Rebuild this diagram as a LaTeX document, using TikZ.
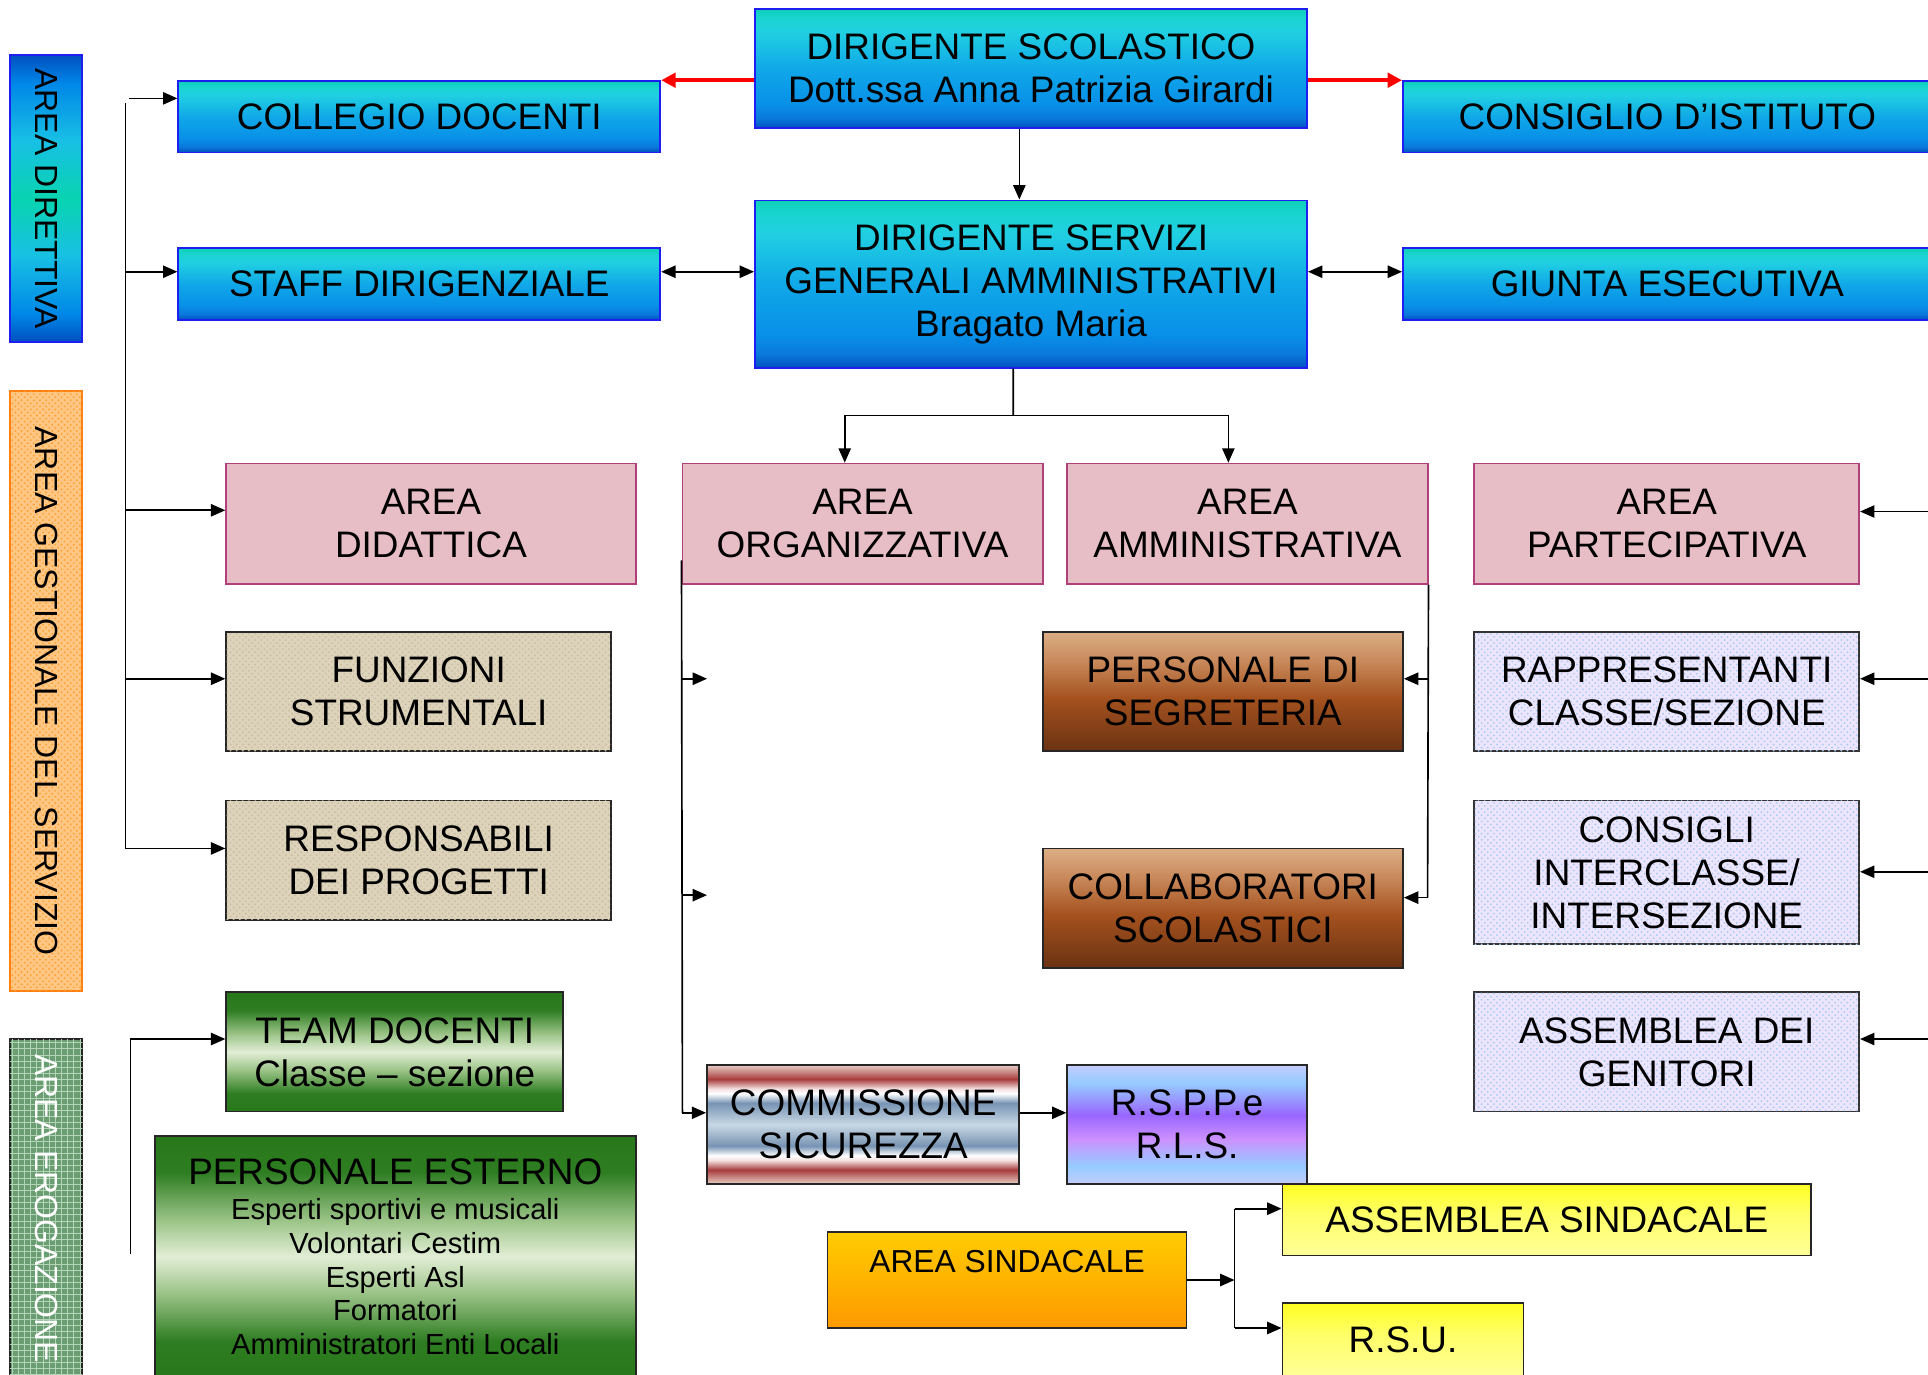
\documentclass[tikz,border=0pt]{standalone}
\usepackage{fontspec}
\setmainfont{Liberation Sans}
\usetikzlibrary{arrows.meta,patterns,calc}

\definecolor{bBorder}{HTML}{1E1EF0}
\definecolor{bA}{HTML}{0050C0}
\definecolor{bB}{HTML}{0A78DC}
\definecolor{bC}{HTML}{0890E8}
\definecolor{bD}{HTML}{10A8E8}
\definecolor{bE}{HTML}{20CFE2}
\definecolor{bF}{HTML}{1AD4D0}
\definecolor{bG}{HTML}{0CD0B8}
\definecolor{pinkF}{HTML}{E8BEC6}
\definecolor{pBorder}{HTML}{B0407A}
\definecolor{beigeF}{HTML}{DDD2BA}
\definecolor{beigeP}{HTML}{C9BDA2}
\definecolor{lavF}{HTML}{EDE5FD}
\definecolor{lavP}{HTML}{A8CCF4}
\definecolor{orF}{HTML}{FFC684}
\definecolor{orP}{HTML}{FFA030}
\definecolor{orBorder}{HTML}{FF7F10}
\definecolor{grF}{HTML}{6A9E72}
\definecolor{grP}{HTML}{B4D4B8}
\definecolor{brA}{HTML}{6A3212}
\definecolor{brB}{HTML}{A5521F}
\definecolor{brC}{HTML}{C8885A}
\definecolor{brD}{HTML}{DBAE85}
\definecolor{gnA}{HTML}{28781A}
\definecolor{gnB}{HTML}{2E7D22}
\definecolor{gnC}{HTML}{9CC488}
\definecolor{gnD}{HTML}{E2EED6}
\definecolor{stA}{HTML}{E8D0C8}
\definecolor{stB}{HTML}{A83C3C}
\definecolor{stC}{HTML}{F4E0E0}
\definecolor{stD}{HTML}{7894B4}
\definecolor{stE}{HTML}{C8D8E4}
\definecolor{rsA}{HTML}{C4CCFF}
\definecolor{rsB}{HTML}{96CCFF}
\definecolor{rsC}{HTML}{CC90FF}
\definecolor{rsD}{HTML}{9966FF}
\definecolor{oA}{HTML}{FF9900}
\definecolor{oB}{HTML}{FFCC00}
\definecolor{yA}{HTML}{FFFF99}
\definecolor{yB}{HTML}{FFFF66}
\definecolor{yC}{HTML}{FFFF22}
\definecolor{barD}{HTML}{0088E8}
\definecolor{barE}{HTML}{18C0E4}
\definecolor{barF}{HTML}{08D4B0}

\pgfdeclareverticalshading{blueshade}{100bp}{color(0bp)=(bA); color(25bp)=(bA); color(29bp)=(bB); color(35bp)=(bC); color(50bp)=(bD); color(65bp)=(bE); color(71bp)=(bF); color(75bp)=(bG); color(100bp)=(bG)}
\pgfdeclareverticalshading{barshade}{100bp}{color(0bp)=(bA); color(25bp)=(bA); color(30bp)=(barD); color(40bp)=(barE); color(50bp)=(barF); color(60bp)=(barE); color(70bp)=(barD); color(75bp)=(bA); color(100bp)=(bA)}
\pgfdeclareverticalshading{brownshade}{100bp}{color(0bp)=(brA); color(25bp)=(brA); color(47.5bp)=(brB); color(62.5bp)=(brC); color(75bp)=(brD); color(100bp)=(brD)}
\pgfdeclareverticalshading{greenshade}{100bp}{color(0bp)=(gnA); color(25bp)=(gnA); color(32.5bp)=(gnB); color(42.5bp)=(gnC); color(50bp)=(gnD); color(57.5bp)=(gnC); color(67.5bp)=(gnB); color(75bp)=(gnA); color(100bp)=(gnA)}
\pgfdeclareverticalshading{stripeshade}{100bp}{color(0bp)=(stA); color(25bp)=(stA); color(31bp)=(stB); color(35bp)=(stC); color(37bp)=(white); color(41bp)=(stD); color(50bp)=(stE); color(59bp)=(stD); color(63bp)=(white); color(65bp)=(stC); color(69bp)=(stB); color(75bp)=(stA); color(100bp)=(stA)}
\pgfdeclareverticalshading{rsppshade}{100bp}{color(0bp)=(rsA); color(25bp)=(rsA); color(32.5bp)=(rsB); color(44bp)=(rsC); color(54bp)=(rsD); color(67.5bp)=(rsB); color(75bp)=(rsA); color(100bp)=(rsA)}
\pgfdeclareverticalshading{orangeshade}{100bp}{color(0bp)=(oA); color(25bp)=(oA); color(75bp)=(oB); color(100bp)=(oB)}
\pgfdeclareverticalshading{yellowshade}{100bp}{color(0bp)=(yA); color(25bp)=(yA); color(55bp)=(yB); color(75bp)=(yC); color(100bp)=(yC)}

\newcommand\bx[7]{\node[#2, minimum width={0.6pt*(#5-#3)}, minimum height={0.6pt*(#6-#4)}] (#1) at ({(#3+#5)/2},{(#4+#6)/2}) {#7};}

\begin{document}
\begin{tikzpicture}[x=0.6pt, y=-0.6pt,
  base/.style={rectangle, inner sep=0pt, align=center, font=\fontsize{18}{21}\selectfont, line width=0.9pt},
  bluebox/.style={base, draw=bBorder, shading=blueshade},
  pinkbox/.style={base, draw=pBorder, fill=pinkF},
  beigebox/.style={base, draw=black!85, fill=beigeF, postaction={pattern=crosshatch dots, pattern color=beigeP}},
  brownbox/.style={base, draw=black!85, shading=brownshade},
  lavbox/.style={base, draw=black!80, fill=lavF, postaction={pattern=crosshatch dots, pattern color=lavP}},
  greenbox/.style={base, draw=black!85, shading=greenshade},
  stripebox/.style={base, draw=black!85, shading=stripeshade},
  rsppbox/.style={base, draw=black!85, shading=rsppshade},
  orangebox/.style={base, draw=black!85, shading=orangeshade},
  yellowbox/.style={base, draw=black!85, shading=yellowshade},
  bluebar/.style={base, draw=bBorder, shading=barshade},
  orangebar/.style={base, draw=orBorder, fill=orF, postaction={pattern=crosshatch dots, pattern color=orP}},
  greenbar/.style={base, draw=black!85, fill=grF, postaction={pattern=grid, pattern color=grP}},
  bartext/.style={font=\fontsize{15.6}{18}\selectfont, inner sep=0pt, rotate=-90},
  ln/.style={line width=0.8pt},
  arr/.style={ln, -{Triangle[length=7pt,width=6pt]}},
  darr/.style={ln, {Triangle[length=7pt,width=6pt]}-{Triangle[length=7pt,width=6pt]}},
  redarr/.style={line width=1.8pt, draw=red, -{Triangle[length=7pt,width=7pt]}}
]
\useasboundingbox (0,0) rectangle (1568,1118);
\clip (0,0) rectangle (1568,1118);

% side bars
\bx{barA}{bluebar}{8}{45}{67}{278}{}
\bx{barB}{orangebar}{8}{318}{67}{806}{}
\bx{barC}{greenbar}{8}{845}{67}{1130}{}
\node[bartext] at (barA.center) {AREA DIRETTIVA};
\node[bartext] at (barB.center) {AREA GESTIONALE DEL SERVIZIO};
\node[bartext, text=white] at ([yshift=2.7pt]barC.center) {AREA EROGAZIONE};

% top
\bx{ds}{bluebox}{614}{7}{1063}{104}{DIRIGENTE SCOLASTICO\\Dott.ssa Anna Patrizia Girardi}
\bx{coll}{bluebox}{145}{66}{537}{124}{COLLEGIO DOCENTI}
\bx{cons}{bluebox}{1141}{66}{1571}{124}{CONSIGLIO D’ISTITUTO}
\bx{dsga}{bluebox}{614}{163}{1063}{299}{DIRIGENTE SERVIZI\\GENERALI AMMINISTRATIVI\\Bragato Maria}
\bx{staff}{bluebox}{145}{202}{537}{260}{STAFF DIRIGENZIALE}
\bx{giunta}{bluebox}{1141}{202}{1571}{260}{GIUNTA ESECUTIVA}

% areas
\bx{dida}{pinkbox}{184}{377}{517}{475}{AREA\\DIDATTICA}
\bx{org}{pinkbox}{555}{377}{848}{475}{AREA\\ORGANIZZATIVA}
\bx{amm}{pinkbox}{868}{377}{1161}{475}{AREA\\AMMINISTRATIVA}
\bx{part}{pinkbox}{1199}{377}{1512}{475}{AREA\\PARTECIPATIVA}

\bx{funz}{beigebox}{184}{514}{497}{611}{FUNZIONI\\STRUMENTALI}
\bx{resp}{beigebox}{184}{651}{497}{748}{RESPONSABILI\\DEI PROGETTI}
\bx{segr}{brownbox}{848}{514}{1141}{611}{PERSONALE DI\\SEGRETERIA}
\bx{collab}{brownbox}{848}{690}{1141}{787}{COLLABORATORI\\SCOLASTICI}
\bx{rapp}{lavbox}{1199}{514}{1512}{611}{RAPPRESENTANTI\\CLASSE/SEZIONE}
\bx{consi}{lavbox}{1199}{651}{1512}{768}{CONSIGLI\\INTERCLASSE/\\INTERSEZIONE}
\bx{assg}{lavbox}{1199}{807}{1512}{904}{ASSEMBLEA DEI\\GENITORI}

\bx{team}{greenbox}{184}{807}{458}{904}{TEAM DOCENTI\\Classe – sezione}
\bx{pe}{greenbox, font=\fontsize{14.2}{16.5}\selectfont}{126}{924}{517}{1120}{{\fontsize{18}{21}\selectfont PERSONALE ESTERNO}\\[0.8pt]
  Esperti sportivi e musicali\\
  Volontari Cestim\\
  Esperti Asl\\
  Formatori\\
  Amministratori Enti Locali}

\bx{comm}{stripebox}{575}{866}{829}{963}{COMMISSIONE\\SICUREZZA}
\bx{rspp}{rsppbox}{868}{866}{1063}{963}{R.S.P.P.e\\R.L.S.}
\bx{sind}{orangebox, font=\fontsize{15.5}{18}\selectfont, text height=11.1pt, text depth=18pt}{673}{1002}{965}{1080}{AREA SINDACALE}
\bx{asss}{yellowbox}{1043}{963}{1473}{1021}{ASSEMBLEA SINDACALE}
\bx{rsu}{yellowbox}{1043}{1060}{1239}{1120}{R.S.U.}

% connectors: top
\draw[redarr] (ds.west |- coll.north east) -- (coll.north east);
\draw[redarr] (ds.east |- cons.north west) -- (cons.north west);
\draw[arr] ([xshift=-5.7pt]ds.south) -- ([xshift=-5.7pt]dsga.north);
\draw[darr] ([yshift=6pt]staff.east) -- ([yshift=6pt]dsga.west);
\draw[darr] ([yshift=6pt]dsga.east) -- ([yshift=6pt]giunta.west);

\coordinate (sp) at (824,338);
\draw[ln] ([xshift=-8.7pt]dsga.south) -- (sp);
\draw[arr] (sp) -| ([xshift=-8.7pt]org.north);
\draw[arr] (sp) -| ([xshift=-9.3pt]amm.north);

% left spine
\coordinate (L0) at (102,84);
\coordinate (L1) at (105,80);
\coordinate (L2) at (102,221);
\coordinate (L3) at (102,415);
\coordinate (L4) at (102,552);
\coordinate (L5) at (102,690);
\draw[ln] (L0) -- (L5);
\draw[arr] (L1) -- (coll.west |- L1);
\draw[arr] (L2) -- (staff.west |- L2);
\draw[arr] (L3) -- (dida.west |- L3);
\draw[arr] (L4) -- (funz.west |- L4);
\draw[arr] (L5) -- (resp.west |- L5);

% right side
\coordinate (R1) at (1575,416);
\coordinate (R2) at (1575,552);
\coordinate (R3) at (1575,709);
\coordinate (R4) at (1575,845);
\draw[arr] (R1) -- (part.east |- R1);
\draw[arr] (R2) -- (rapp.east |- R2);
\draw[arr] (R3) -- (consi.east |- R3);
\draw[arr] (R4) -- (assg.east |- R4);

% organizzativa
\coordinate (O3) at (555,905);
\coordinate (O1) at (555,552);
\coordinate (O1e) at (575,552);
\coordinate (O2) at (555,728);
\coordinate (O2e) at (575,728);
\draw[ln] ([yshift=12pt]org.south west) -- (O3);
\draw[arr] (O3) -- (comm.west |- O3);
\draw[arr] (O1) -- (O1e);
\draw[arr] (O2) -- (O2e);
\draw[arr] ([yshift=5.7pt]comm.east) -- ([yshift=5.7pt]rspp.west);

% amministrativa
\coordinate (A1) at (1161,552);
\coordinate (A2) at (1161,730);
\draw[ln] (amm.south east) -- (A2);
\draw[arr] (A1) -- (segr.east |- A1);
\draw[arr] (A2) -- (collab.east |- A2);

% sindacale
\coordinate (S0) at (1004,1041);
\coordinate (S1) at (1004,983);
\coordinate (S2) at (1004,1080);
\draw[arr] (sind.east |- S0) -- (S0);
\draw[ln] (S1) -- (S2);
\draw[arr] (S1) -- (asss.west |- S1);
\draw[arr] (S2) -- (rsu.west |- S2);

% team docenti
\coordinate (T0) at (106,1020);
\coordinate (T1) at (106,845);
\draw[arr] (T0) -- (T1) -- (team.west |- T1);
\end{tikzpicture}
\end{document}
